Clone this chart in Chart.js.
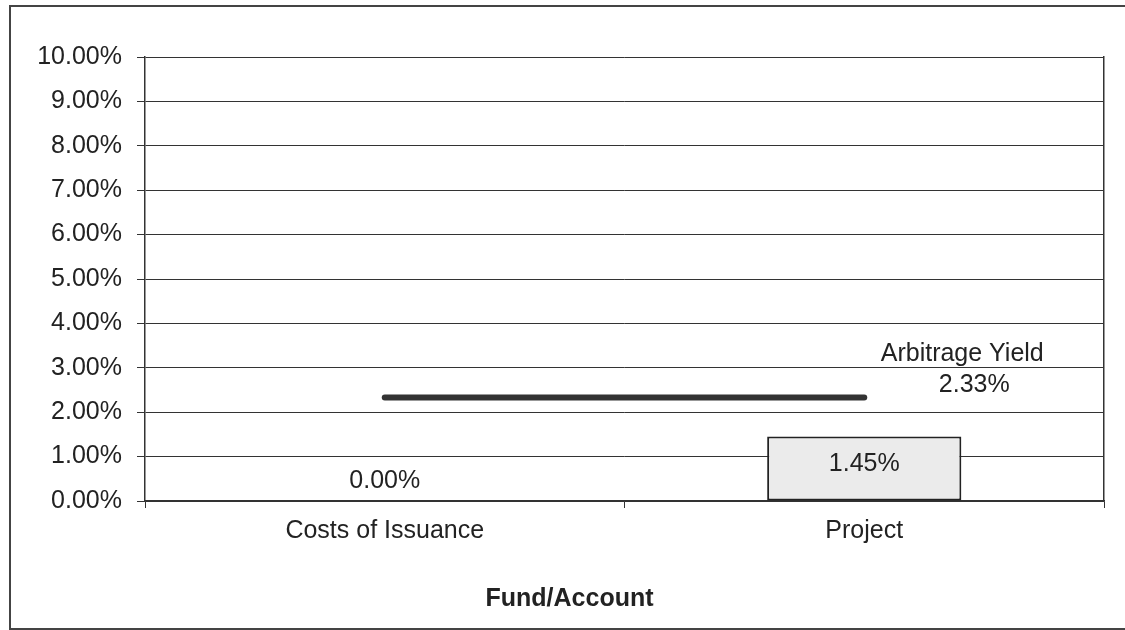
<!DOCTYPE html>
<html>
<head>
<meta charset="utf-8">
<script src="https://cdn.jsdelivr.net/npm/chart.js@4/dist/chart.umd.min.js"></script>
<style>
  html, body { margin: 0; padding: 0; background: #fff; }
  #wrap { position: relative; width: 1125px; height: 630px; overflow: hidden; }
  #frame { position: absolute; left: 9px; top: 5px; width: 1130px; height: 621px; border: 2px solid #444; }
  #chart { position: absolute; left: 0; top: 0; }
</style>
</head>
<body>
<div id="wrap">
  <div id="frame"></div>
  <canvas id="chart" width="1125" height="630"></canvas>
</div>
<script>
const categories = ['Costs of Issuance', 'Project'];
const fundYields = [0.00, 1.45];
const arbitrageYield = [2.33, 2.33];
const yMin = 0;
const yMax = 10;
const yStep = 1;

const ink = '#222';
const labelFont = { family: 'Liberation Sans, Arial, sans-serif', size: 25 };

function pct(v) {
    return v.toFixed(2) + '%';
}

// value labels for the bars and the arbitrage yield line
const valueLabels = {
    id: 'valueLabels',
    afterDatasetsDraw(chart) {
        const ctx = chart.ctx;
        const yScale = chart.scales.y;
        ctx.save();
        ctx.fillStyle = ink;
        ctx.font = labelFont.size + 'px ' + labelFont.family;
        ctx.textAlign = 'center';
        ctx.textBaseline = 'middle';

        const barMeta = chart.getDatasetMeta(0);
        barMeta.data.forEach((bar, i) => {
            const v = fundYields[i];
            let y;
            if (v === 0) {
                y = yScale.getPixelForValue(0) - 20;
            } else {
                y = (bar.y + bar.base) / 2 - 4;
            }
            ctx.fillText(pct(v), bar.x, y);
        });

        const lineMeta = chart.getDatasetMeta(1);
        const last = lineMeta.data[lineMeta.data.length - 1];
        const lx = last.x + 98;
        ctx.fillText('Arbitrage Yield', lx, last.y - 43);
        ctx.fillText(pct(arbitrageYield[arbitrageYield.length - 1]), lx + 12, last.y - 12);
        ctx.restore();
    }
};

const chart = new Chart(document.getElementById('chart').getContext('2d'), {
    data: {
        labels: categories,
        datasets: [{
            type: 'bar',
            label: 'Yield',
            data: fundYields,
            backgroundColor: '#ebebeb',
            borderColor: '#222',
            borderWidth: 2,
            borderSkipped: false,
            categoryPercentage: 1,
            barPercentage: 0.405,
            order: 2
        }, {
            type: 'line',
            label: 'Arbitrage Yield',
            data: arbitrageYield,
            borderColor: '#333',
            borderWidth: 6,
            borderCapStyle: 'round',
            pointRadius: 0,
            fill: false,
            order: 1
        }]
    },
    options: {
        responsive: false,
        animation: false,
        layout: { padding: { left: 35, right: 21, top: 57, bottom: 0 } },
        plugins: {
            legend: { display: false },
            tooltip: { enabled: false },
            title: {
                display: true,
                position: 'bottom',
                text: 'Fund/Account',
                color: ink,
                font: { family: labelFont.family, size: 25, weight: 'bold' },
                padding: { top: 0, bottom: 16 }
            }
        },
        scales: {
            x: {
                offset: true,
                grid: {
                    offset: true,
                    drawOnChartArea: false,
                    drawTicks: true,
                    tickLength: 7,
                    color: '#333'
                },
                border: { display: true, color: '#333', width: 1.5 },
                ticks: { color: ink, font: labelFont, padding: 8, maxRotation: 0 },
                afterFit(scale) { scale.height = 83; }
            },
            y: {
                min: yMin,
                max: yMax,
                ticks: {
                    stepSize: yStep,
                    color: ink,
                    font: labelFont,
                    padding: 15,
                    callback: (v) => pct(v)
                },
                grid: { color: '#333', lineWidth: 1, tickLength: 8 },
                border: { display: true, color: '#333', width: 1.5 },
                afterFit(scale) { scale.width = 110; }
            },
            y2: {
                position: 'right',
                min: yMin,
                max: yMax,
                ticks: { display: false },
                grid: { drawOnChartArea: false, drawTicks: false },
                border: { display: true, color: '#333', width: 1.5 },
                afterFit(scale) { scale.width = 0; }
            }
        }
    },
    plugins: [valueLabels]
});
</script>
</body>
</html>
